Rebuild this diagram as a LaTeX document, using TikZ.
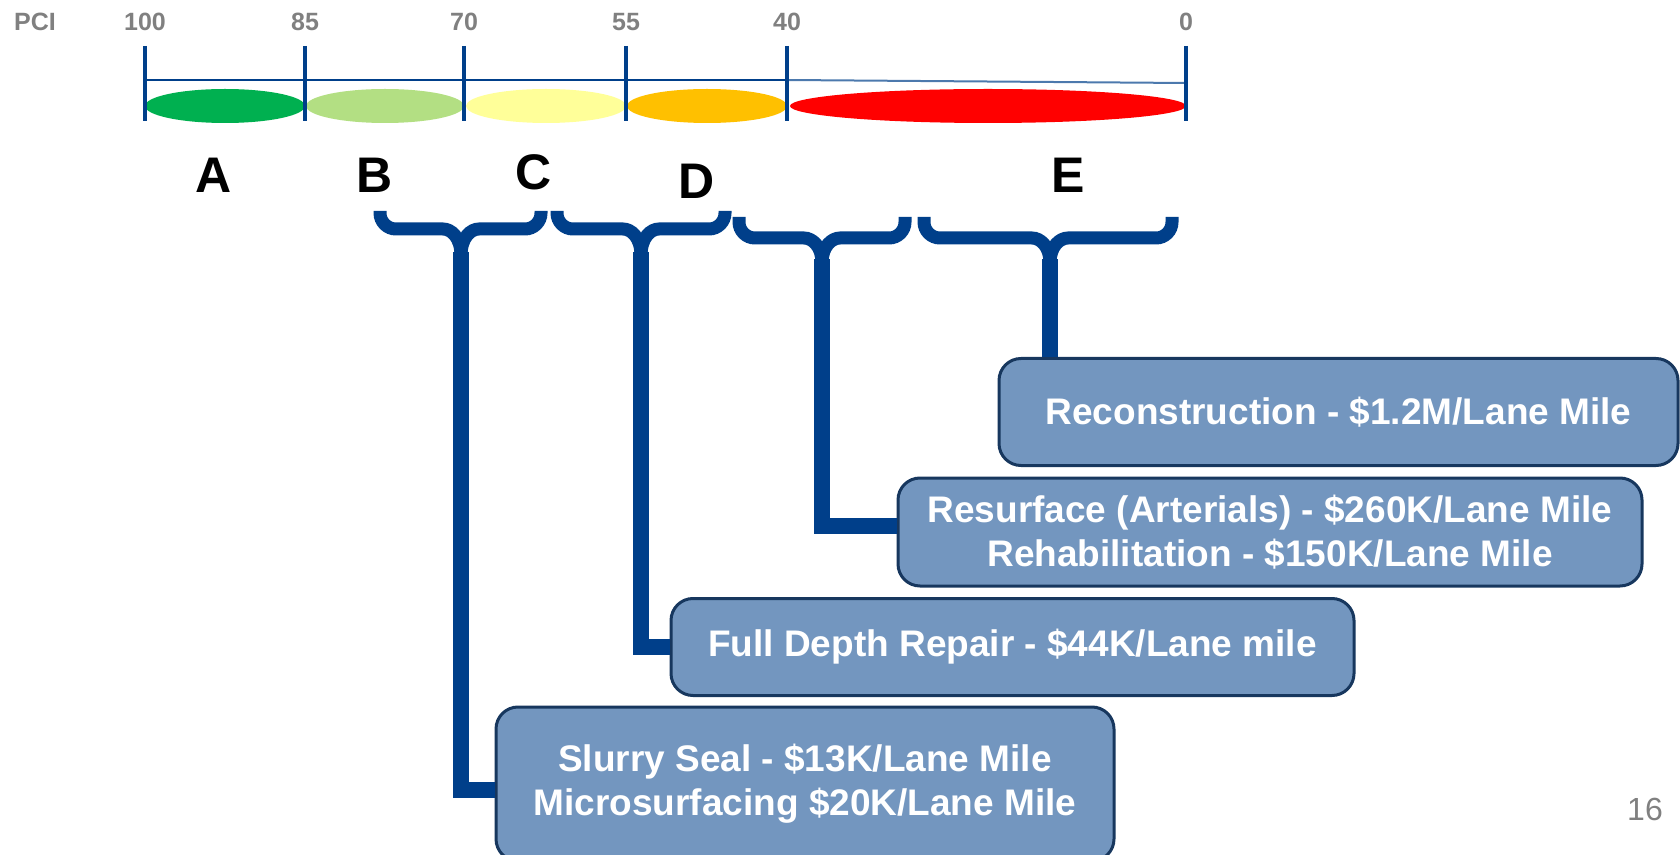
\documentclass[tikz,border=0pt]{standalone}
\usepackage{fontspec}
\setmainfont{Liberation Sans}
\usepackage{tikz}
\usetikzlibrary{positioning}
\definecolor{scaleblue}{HTML}{003F8A}
\definecolor{boxfill}{HTML}{7396BF}
\definecolor{boxline}{HTML}{17375E}
\definecolor{labelgray}{HTML}{808080}
\definecolor{pciA}{HTML}{00B050}
\definecolor{pciB}{HTML}{B3DF83}
\definecolor{pciC}{HTML}{FFFF99}
\definecolor{pciD}{HTML}{FFC000}
\definecolor{pciE}{HTML}{FF0000}

\begin{document}
\begin{tikzpicture}[x=0.5pt, y=0.5pt,
      tick/.style={scaleblue, line width=2pt},
      ticklbl/.style={labelgray, font=\bfseries\fontsize{12.5}{14}\selectfont},
      grade/.style={font=\bfseries\fontsize{25}{28}\selectfont},
      brace/.style={scaleblue, line width=6.5pt, line cap=butt, rounded corners=8pt},
      stem/.style={scaleblue, line width=8pt, line cap=butt},
      treat/.style={draw=boxline, fill=boxfill, line width=1.5pt, rounded corners=11pt,
      text=white, align=center, font=\bfseries\fontsize{18.5}{22}\selectfont},
    ]
    \useasboundingbox (0,0) rectangle (1680,-855);

    % PCI scale
    \fill[pciA] (225,-106) ellipse [x radius=80, y radius=17];
    \fill[pciB] (385,-106) ellipse [x radius=79, y radius=17];
    \fill[pciC] (546,-106) ellipse [x radius=80, y radius=17];
    \fill[pciD] (707,-106) ellipse [x radius=80, y radius=17];
    \fill[pciE] (988,-106) ellipse [x radius=198, y radius=17];
    \draw[scaleblue, line width=1.2pt] (145,-80) -- (787,-80);
    \draw[scaleblue!70, line width=1pt] (787,-80) -- (1186,-83);
    \foreach \x/\v in {145/100, 305/85, 464/70, 626/55, 787/40, 1186/0} {
      \draw[tick] (\x,-46) -- (\x,-121);
      \node[ticklbl] at (\x,-22) {\v};
    }
    \node[ticklbl] (pci) at (35,-22) {PCI};

    \node[grade] (gA) at (214,-175) {A};
    \node[grade] (gB) at (375,-175) {B};
    \node[grade] (gC) at (534,-172) {C};
    \node[grade] (gD) at (697,-181) {D};
    \node[grade] (gE) at (1068,-175) {E};

    % braces
    \foreach \l/\r/\m/\t/\h/\p/\n in {380/541/461/211/229/256/tipB,
      557/725/641/211/229/256/tipC, 739/905/822/217/238/263/tipD,
      924/1172/1050/217/238/263/tipE} {
      \draw[brace] (\l,-\t) |- (\m-34,-\h) .. controls (\m-10,-\h) and (\m,-\h-8) .. (\m,-\p);
      \draw[brace] (\r,-\t) |- (\m+34,-\h) .. controls (\m+10,-\h) and (\m,-\h-8) .. (\m,-\p);
      \coordinate (\n) at (\m,-\p+4);
    }

    % treatments
    \node[treat, minimum width=339.5pt, minimum height=53.5pt] (recon) at (1338.5,-412)
      {Reconstruction - \$1.2M/Lane Mile};
    \node[treat, minimum width=372pt, minimum height=54pt] (resurf) at (1270,-532)
      {Resurface (Arterials) - \$260K/Lane Mile\\Rehabilitation - \$150K/Lane Mile};
    \node[treat, minimum width=341.5pt, minimum height=48.5pt] (fdr) at (1012.5,-647)
      {Full Depth Repair - \$44K/Lane mile};
    \node[treat, minimum width=309pt, minimum height=77pt] (slurry) at (805,-784)
      {Slurry Seal - \$13K/Lane Mile\\Microsurfacing \$20K/Lane Mile};

    \draw[stem] (tipB) |- ([yshift=-3pt]slurry.west);
    \draw[stem] (tipC) |- (fdr.west);
    \draw[stem] (tipD) |- ([yshift=3pt]resurf.west);
    \draw[stem] (tipE) -- (tipE |- recon.north);

    \node[labelgray, font=\fontsize{16}{18}\selectfont] (page) at (1645,-809) {16};
  \end{tikzpicture}
\end{document}
